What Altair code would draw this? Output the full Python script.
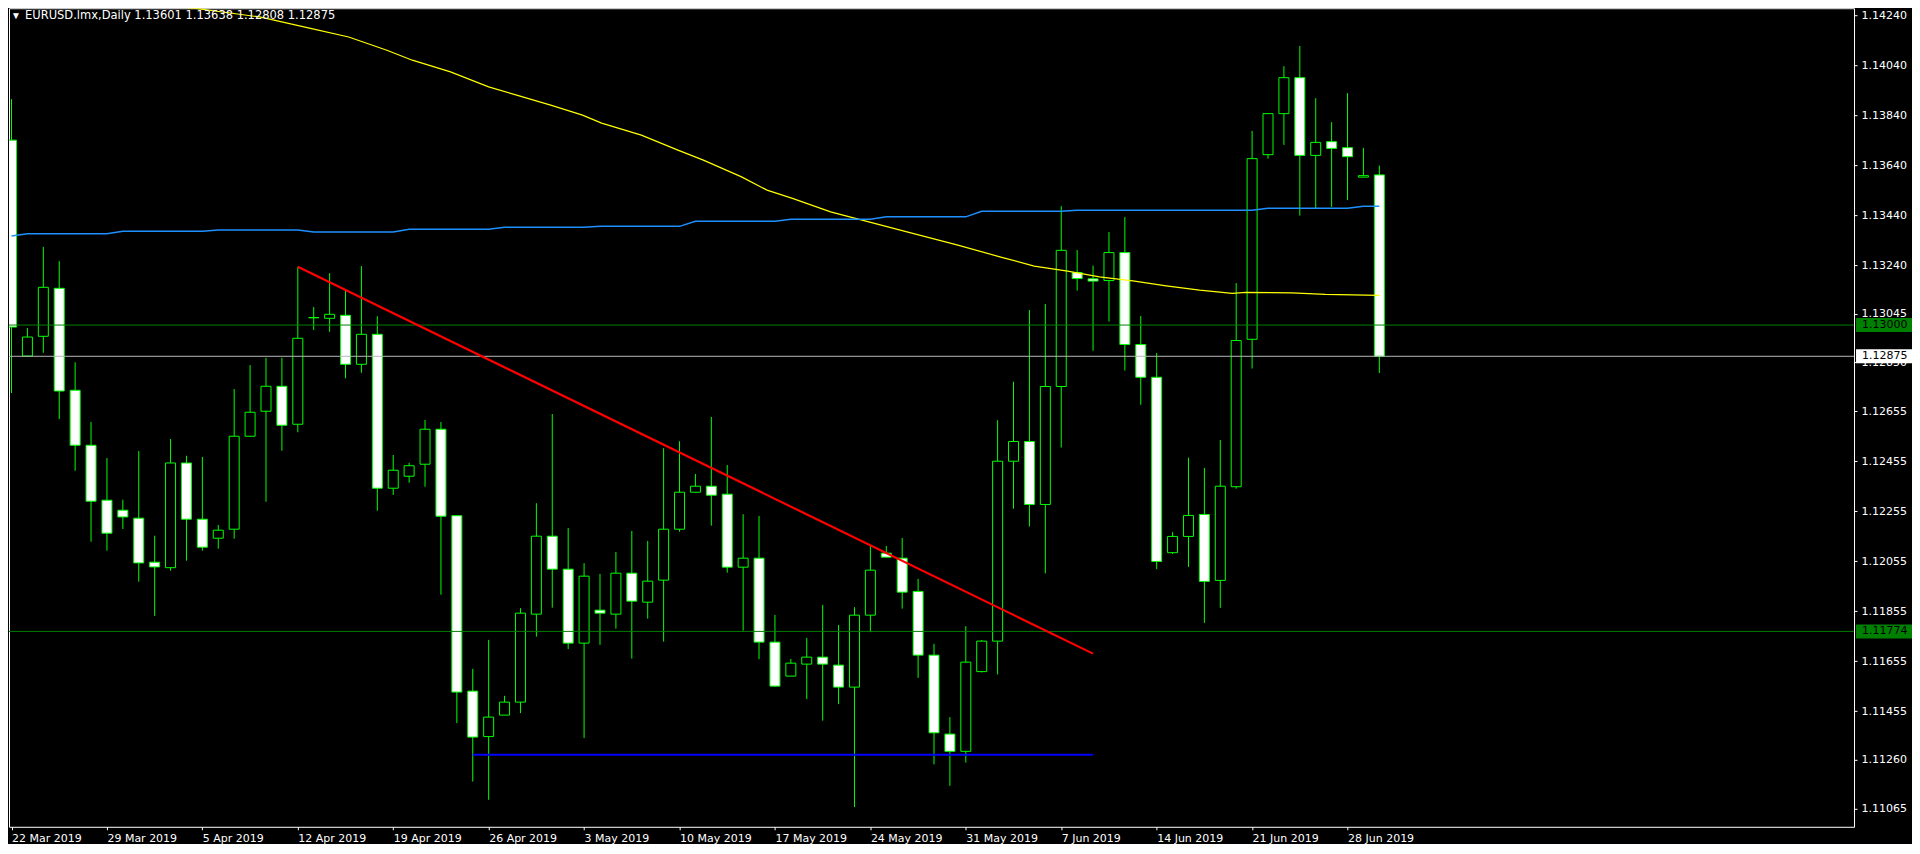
import json
import altair as alt
import pandas as pd

# ---------------- data ----------------
week_labels = ["22 Mar 2019", "29 Mar 2019", "5 Apr 2019", "12 Apr 2019", "19 Apr 2019",
               "26 Apr 2019", "3 May 2019", "10 May 2019", "17 May 2019", "24 May 2019",
               "31 May 2019", "7 Jun 2019", "14 Jun 2019", "21 Jun 2019", "28 Jun 2019"]
bars_per_week = 6

opens = [1.13740, 1.12876, 1.12955, 1.13147, 1.12739, 1.12519, 1.12299, 1.12259, 1.12227, 1.12051,
         1.12029, 1.12448, 1.12223, 1.12147, 1.12183, 1.12555, 1.12655, 1.12755, 1.12603, 1.13030,
         1.13027, 1.13039, 1.12843, 1.12963, 1.12347, 1.12395, 1.12443, 1.12583, 1.12237, 1.11535,
         1.11353, 1.11439, 1.11491, 1.11843, 1.12155, 1.12023, 1.11727, 1.11859, 1.11843, 1.12007,
         1.11891, 1.11979, 1.12183, 1.12331, 1.12355, 1.12323, 1.12031, 1.12067, 1.11731, 1.11595,
         1.11643, 1.11671, 1.11639, 1.11551, 1.11839, 1.12087, 1.12067, 1.11934, 1.11679, 1.11363,
         1.11294, 1.11613, 1.11735, 1.12455, 1.12534, 1.12282, 1.12754, 1.13210, 1.13185, 1.13178,
         1.13290, 1.12922, 1.12791, 1.12089, 1.12154, 1.12242, 1.11978, 1.12353, 1.12943, 1.13682,
         1.13846, 1.13990, 1.13679, 1.13734, 1.13710, 1.13592, 1.13601]
highs = [1.13904, 1.12988, 1.13313, 1.13256, 1.12851, 1.12612, 1.12468, 1.12301, 1.12496, 1.12157,
         1.12544, 1.12477, 1.12472, 1.12200, 1.12744, 1.12840, 1.12869, 1.12869, 1.13233, 1.13072,
         1.13208, 1.13140, 1.13236, 1.13035, 1.12480, 1.12449, 1.12620, 1.12612, 1.12237, 1.11624,
         1.11740, 1.11516, 1.11867, 1.12287, 1.12644, 1.12188, 1.12047, 1.12004, 1.12092, 1.12176,
         1.12136, 1.12507, 1.12535, 1.12404, 1.12632, 1.12440, 1.12243, 1.12236, 1.11840, 1.11664,
         1.11748, 1.11880, 1.11800, 1.11871, 1.12116, 1.12116, 1.12148, 1.11984, 1.11724, 1.11431,
         1.11795, 1.11739, 1.12619, 1.12773, 1.13060, 1.13084, 1.13476, 1.13300, 1.13238, 1.13372,
         1.13432, 1.13036, 1.12888, 1.12171, 1.12469, 1.12428, 1.12540, 1.13168, 1.13777, 1.13846,
         1.14036, 1.14117, 1.13908, 1.13812, 1.13928, 1.13709, 1.13638]
lows = [1.12728, 1.12872, 1.12889, 1.12624, 1.12417, 1.12133, 1.12097, 1.12184, 1.11973, 1.11836,
        1.12017, 1.12057, 1.12097, 1.12105, 1.12145, 1.12553, 1.12293, 1.12497, 1.12571, 1.12980,
        1.12973, 1.12787, 1.12809, 1.12257, 1.12320, 1.12369, 1.12353, 1.11921, 1.11407, 1.11173,
        1.11100, 1.11439, 1.11447, 1.11753, 1.11869, 1.11703, 1.11347, 1.11720, 1.11785, 1.11665,
        1.11825, 1.11733, 1.12173, 1.12331, 1.12197, 1.12009, 1.11777, 1.11663, 1.11551, 1.11595,
        1.11503, 1.11417, 1.11483, 1.11071, 1.11771, 1.12071, 1.11865, 1.11588, 1.11242, 1.11156,
        1.11249, 1.11610, 1.11602, 1.12265, 1.12194, 1.12006, 1.12510, 1.13138, 1.12897, 1.13014,
        1.12818, 1.12681, 1.12023, 1.12084, 1.12032, 1.11808, 1.11868, 1.12345, 1.12826, 1.13666,
        1.13721, 1.13438, 1.13468, 1.13473, 1.13500, 1.13592, 1.12808]
closes = [1.12992, 1.12952, 1.13151, 1.12736, 1.12519, 1.12295, 1.12167, 1.12232, 1.12048, 1.12032,
          1.12448, 1.12223, 1.12111, 1.12179, 1.12555, 1.12651, 1.12755, 1.12599, 1.12947, 1.13029,
          1.13043, 1.12843, 1.12963, 1.12347, 1.12419, 1.12437, 1.12583, 1.12235, 1.11531, 1.11351,
          1.11431, 1.11491, 1.11847, 1.12155, 1.12023, 1.11727, 1.11995, 1.11847, 1.12007, 1.11895,
          1.11975, 1.12183, 1.12331, 1.12355, 1.12319, 1.12031, 1.12067, 1.11731, 1.11555, 1.11647,
          1.11671, 1.11643, 1.11551, 1.11839, 1.12019, 1.12071, 1.11931, 1.11679, 1.11368, 1.11294,
          1.11651, 1.11735, 1.12455, 1.12534, 1.12282, 1.12754, 1.13299, 1.13186, 1.13176, 1.13290,
          1.12922, 1.12791, 1.12054, 1.12154, 1.12238, 1.11974, 1.12355, 1.12938, 1.13666, 1.13846,
          1.13990, 1.13679, 1.13731, 1.13707, 1.13674, 1.13598, 1.12875]

yellow_ma_idx = [7.0, 9.44, 11.6, 15.6, 18.8, 21.2, 23.6, 25.2, 27.6, 30.0, 31.6, 33.9, 35.9, 37.1,
                 39.6, 41.9, 43.5, 45.9, 47.5, 49.1, 51.5, 53.9, 56.3, 59.5, 62.2, 64.3, 66.4, 68.4,
                 70.5, 72.6, 74.7, 76.75, 77.6, 80.5, 82.6, 86.0]
yellow_ma_val = [1.14294, 1.14280, 1.14267, 1.14233, 1.14187, 1.14153, 1.14100, 1.14060, 1.14013,
                 1.13953, 1.13923, 1.13880, 1.13840, 1.13808, 1.13760, 1.13700, 1.13660, 1.13593,
                 1.13540, 1.13507, 1.13453, 1.13413, 1.13373, 1.13320, 1.13272, 1.13236, 1.13216,
                 1.13193, 1.13177, 1.13157, 1.13140, 1.13127, 1.13131, 1.13129, 1.13123, 1.13119]

blue_ma_idx = [0, 1, 6, 7, 12, 13, 18, 19, 24, 25, 30, 31, 36, 37, 42, 43, 48, 49, 54, 55, 60, 61,
               66, 67, 78, 79, 84, 85, 86]
blue_ma_val = [1.13356, 1.13365, 1.13365, 1.13375, 1.13375, 1.13380, 1.13380, 1.13372, 1.13372,
               1.13383, 1.13383, 1.13391, 1.13391, 1.13395, 1.13395, 1.13415, 1.13415, 1.13423,
               1.13423, 1.13433, 1.13433, 1.13455, 1.13455, 1.13459, 1.13459, 1.13467, 1.13467,
               1.13475, 1.13475]

trend_idx = [18, 68]
trend_val = [1.13233, 1.11685]
support_idx = [29, 68]
support_val = [1.11280, 1.11280]

green_levels = [1.13000, 1.11774]
bid_level = 1.12875

price_ticks = [1.14240, 1.14040, 1.13840, 1.13640, 1.13440, 1.13240, 1.13045, 1.12850, 1.12655,
               1.12455, 1.12255, 1.12055, 1.11855, 1.11655, 1.11455, 1.11260, 1.11065]

symbol_text = "EURUSD.lmx,Daily  1.13601 1.13638 1.12808 1.12875"

# ---------------- chart ----------------
W, H = 1846, 819
FONT = "DejaVu Sans"
LIME = "#00FF00"

xscale = alt.Scale(domain=[0.15625, 115.53125], nice=False, zero=False)
yscale = alt.Scale(domain=[1.10992, 1.14268], nice=False, zero=False)

label_positions = [k * bars_per_week for k in range(len(week_labels))]
xaxis = alt.Axis(values=label_positions,
                 labelExpr=json.dumps(week_labels) + "[round(datum.value / %d)]" % bars_per_week,
                 orient="bottom", title=None, grid=False, domain=False,
                 tickColor="#FFFFFF", tickSize=3, labelColor="#FFFFFF", labelFont=FONT,
                 labelFontSize=11, labelAlign="left", labelBaseline="top", labelPadding=3,
                 labelFlush=False, labelOverlap=False, labelBound=False)
yaxis = alt.Axis(values=price_ticks, format=".5f", orient="right", title=None, grid=False,
                 domain=False, tickColor="#FFFFFF", tickSize=3, labelColor="#FFFFFF",
                 labelFont=FONT, labelFontSize=11, labelPadding=4, labelOverlap=False,
                 labelFlush=False, labelBound=False)


def X(field):
    return alt.X(field, type="quantitative", scale=xscale, axis=xaxis)


def Y(field):
    return alt.Y(field, type="quantitative", scale=yscale, axis=yaxis)


candles = pd.DataFrame({"i": list(range(len(opens))), "open": opens, "high": highs,
                        "low": lows, "close": closes})

wicks = alt.Chart(candles).mark_rule(color=LIME, strokeWidth=1, clip=True).encode(
    x=X("i"), y=Y("low"), y2="high")

bodies = alt.Chart(candles).mark_bar(size=10, stroke=LIME, strokeWidth=1, clip=True).encode(
    x=X("i"), y=Y("open"), y2="close",
    fill=alt.condition("datum.close < datum.open", alt.value("#FFFFFF"), alt.value("#000000")))

yellow = alt.Chart(pd.DataFrame({"i": yellow_ma_idx, "v": yellow_ma_val})).mark_line(
    color="#FFFF00", strokeWidth=1.2, clip=True).encode(x=X("i"), y=Y("v"))

blue = alt.Chart(pd.DataFrame({"i": blue_ma_idx, "v": blue_ma_val})).mark_line(
    color="#1E90FF", strokeWidth=1.5, clip=True).encode(x=X("i"), y=Y("v"))

hl_green = alt.Chart(pd.DataFrame({"p": green_levels})).mark_rule(
    color="#008000", strokeWidth=1).encode(y=Y("p"))
hl_bid = alt.Chart(pd.DataFrame({"p": [bid_level]})).mark_rule(
    color="#B8B8B8", strokeWidth=1).encode(y=Y("p"))

trend = alt.Chart(pd.DataFrame({"i": trend_idx, "v": trend_val})).mark_line(
    color="#FF0000", strokeWidth=2.2, clip=True).encode(x=X("i"), y=Y("v"))

support = alt.Chart(pd.DataFrame({"i": support_idx, "v": support_val})).mark_line(
    color="#0000FF", strokeWidth=2, clip=True).encode(x=X("i"), y=Y("v"))

boxes_df = pd.DataFrame({
    "p": green_levels + [bid_level],
    "bg": ["#008000", "#008000", "#FFFFFF"],
    "txt": [f"{v:.5f}" for v in green_levels + [bid_level]],
})
box_shape = "M-1,-0.25L1,-0.25L1,0.25L-1,0.25Z"
price_boxes = alt.Chart(boxes_df).mark_point(
    shape=box_shape, size=3136, filled=True, opacity=1, strokeWidth=0).encode(
    x=alt.value(W + 30), y=Y("p"), fill=alt.Color("bg:N", scale=None, legend=None))
price_box_text = alt.Chart(boxes_df).mark_text(
    align="left", baseline="middle", font=FONT, fontSize=11, color="#000000").encode(
    x=alt.value(W + 8), y=Y("p"), text="txt:N")

one = pd.DataFrame({"k": [0]})
tri = alt.Chart(one).mark_text(text="▼", align="left", baseline="middle", fontSize=10,
                               color="#FFFFFF").encode(x=alt.value(2), y=alt.value(8))
header = alt.Chart(one).mark_text(text=symbol_text, align="left", baseline="middle",
                                  font=FONT, fontSize=11.5, color="#FFFFFF").encode(
    x=alt.value(16), y=alt.value(8))

chart = alt.layer(
    wicks, bodies, yellow, blue, hl_green, hl_bid, trend, support,
    price_boxes, price_box_text, tri, header
).properties(
    width=W, height=H, background="#000000", padding=0
).configure_view(
    stroke="#FFFFFF", strokeWidth=1, fill="#000000"
)

chart.save("out.html", embed_options={"renderer": "svg", "actions": False})
